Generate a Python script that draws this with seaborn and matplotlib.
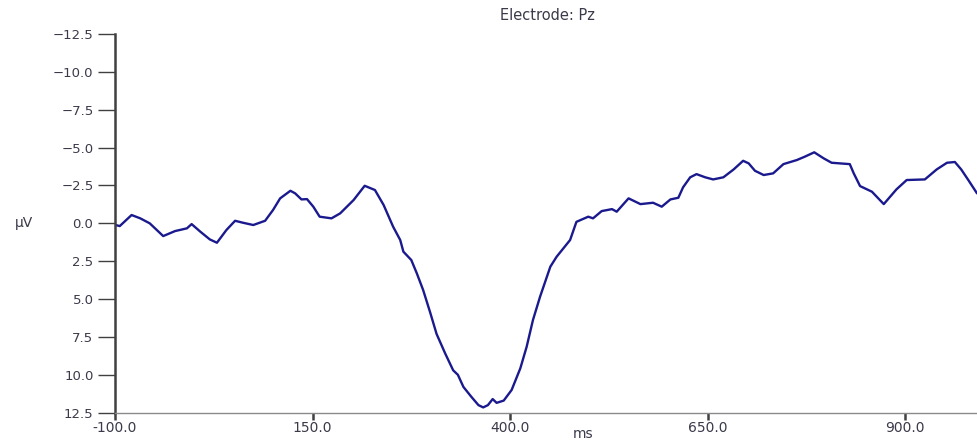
import matplotlib
matplotlib.use("Agg")
import matplotlib.pyplot as plt
import seaborn as sns
import pandas as pd

# ---- data ----
time_ms = [-100, -94, -79, -68, -56, -39, -24, -9, -3, 8, 20, 29, 41, 52, 62, 75, 90,
           100, 109, 122, 128, 136, 143, 151, 159, 174, 185, 202, 216, 229, 240, 252,
           261, 265, 275, 282, 290, 299, 307, 318, 328, 334, 341, 351, 360, 366, 372,
           378, 383, 392, 402, 413, 421, 429, 438, 451, 459, 476, 484, 499, 505, 516,
           529, 535, 550, 565, 581, 592, 603, 613, 619, 628, 636, 647, 657, 670, 683,
           695, 702, 710, 721, 733, 746, 763, 773, 785, 797, 807, 830, 835, 843, 858,
           873, 889, 902, 925, 940, 953, 963, 971, 980, 991]
amplitude_uv = [0.1, 0.18, -0.55, -0.33, 0.0, 0.84, 0.51, 0.33, 0.05, 0.55, 1.06, 1.28,
                0.44, -0.17, -0.04, 0.11, -0.17, -0.88, -1.65, -2.15, -1.98, -1.58, -1.6,
                -1.1, -0.44, -0.33, -0.66, -1.54, -2.48, -2.2, -1.21, 0.22, 1.1, 1.87,
                2.42, 3.3, 4.4, 5.9, 7.3, 8.6, 9.7, 10.0, 10.8, 11.45, 12.0, 12.15, 12.0,
                11.6, 11.85, 11.7, 11.0, 9.57, 8.15, 6.38, 4.84, 2.86, 2.2, 1.1, -0.1,
                -0.44, -0.33, -0.81, -0.94, -0.77, -1.65, -1.27, -1.36, -1.1, -1.58,
                -1.69, -2.38, -3.04, -3.25, -3.04, -2.9, -3.04, -3.56, -4.13, -3.96,
                -3.47, -3.19, -3.3, -3.91, -4.18, -4.4, -4.69, -4.29, -4.0, -3.91, -3.3,
                -2.46, -2.09, -1.27, -2.24, -2.86, -2.9, -3.56, -4.0, -4.05, -3.56,
                -2.86, -1.98]

x_ticks = [-100, 150, 400, 650, 900]
y_ticks = [-12.5, -10.0, -7.5, -5.0, -2.5, 0.0, 2.5, 5.0, 7.5, 10.0, 12.5]
title = "Electrode: Pz"
x_label = "ms"
y_label = "µV"

df = pd.DataFrame({"ms": time_ms, "uV": amplitude_uv})

sns.set_style("white")
plt.rcParams["font.family"] = ["DejaVu Sans"]
text_color = "#3a3a4a"

fig = plt.figure(figsize=(9.77, 4.42), dpi=100)
ax = fig.add_axes([115 / 977, 1 - 412.7 / 442, 1 - 115 / 977, (412.7 - 34) / 442])

sns.lineplot(data=df, x="ms", y="uV", ax=ax, color="#1a1a8e", linewidth=1.7,
             estimator=None, sort=False)

ax.set_xlim(-100, 991)
ax.set_ylim(12.5, -12.5)
ax.set_xticks(x_ticks)
ax.set_xticklabels([f"{v:.1f}" for v in x_ticks])
ax.set_yticks(y_ticks)
ax.set_yticklabels([f"{v:.1f}".replace("-", "\u2212") for v in y_ticks])
ax.set_yticks([-12.5], minor=True)

for s in ["top", "right"]:
    ax.spines[s].set_visible(False)
ax.spines["left"].set_color("#404040")
ax.spines["left"].set_linewidth(1.8)
ax.spines["bottom"].set_color("#8a8a8a")
ax.spines["bottom"].set_linewidth(1.0)

ax.tick_params(axis="y", which="major", direction="out", length=12, width=1.0,
               color="#404040", pad=3.5, labelsize=9.5, labelcolor=text_color, left=True)
ax.tick_params(axis="y", which="minor", direction="in", length=13, width=1.0,
               color="#404040", left=True)
ax.tick_params(axis="x", which="major", direction="out", length=5, width=1.8,
               color="#404040", pad=1, labelsize=10, labelcolor=text_color, bottom=True)

ax.set_xlabel(x_label, fontsize=10, color=text_color)
ax.xaxis.set_label_coords((583 - 115) / 862, (412.7 - 441) / 378.7)
ax.xaxis.label.set_va("bottom")
ax.set_ylabel(y_label, fontsize=10, color=text_color, rotation=0, va="center", ha="center")
ax.yaxis.set_label_coords((24 - 115) / 862, 0.5)

fig.text(547 / 977, 1 - 16 / 442, title, ha="center", va="center",
         fontsize=10.5, color=text_color)

fig.savefig("out.png", dpi=100)
